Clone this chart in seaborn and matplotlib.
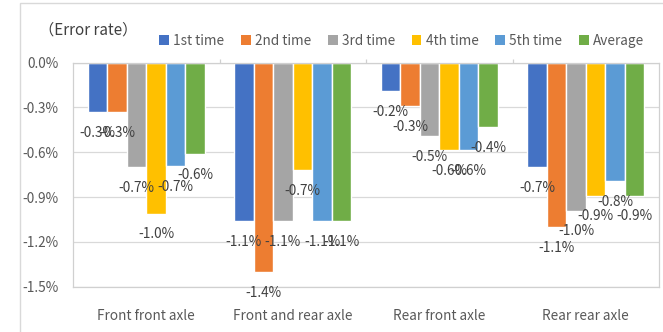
import matplotlib
matplotlib.use("Agg")
import matplotlib.pyplot as plt
import seaborn as sns
import pandas as pd
from matplotlib.patches import Patch, Rectangle
from matplotlib.ticker import FixedLocator, FuncFormatter

categories = ["Front front axle", "Front and rear axle", "Rear front axle", "Rear rear axle"]
series = ["1st time", "2nd time", "3rd time", "4th time", "5th time", "Average"]
first_time = [-0.33, -1.06, -0.19, -0.70]
second_time = [-0.33, -1.40, -0.29, -1.10]
third_time = [-0.70, -1.06, -0.49, -0.99]
fourth_time = [-1.01, -0.72, -0.585, -0.89]
fifth_time = [-0.69, -1.06, -0.585, -0.79]
average = [-0.61, -1.06, -0.43, -0.89]
yticks = [0.0, -0.3, -0.6, -0.9, -1.2, -1.5]
colors = ["#4472C4", "#ED7D31", "#A5A5A5", "#FFC000", "#5B9BD5", "#70AD47"]

values = [first_time, second_time, third_time, fourth_time, fifth_time, average]
rows = []
for s, vals in zip(series, values):
    for c, v in zip(categories, vals):
        rows.append({"category": c, "series": s, "value": v})
df = pd.DataFrame(rows)

sns.set_theme(style="white")
plt.rcParams["font.family"] = ["Noto Sans CJK JP", "DejaVu Sans"]

fig = plt.figure(figsize=(6.63, 3.32), dpi=100)
ax = fig.add_axes([73 / 663, 1 - 286.7 / 332, (659 - 73) / 663, (286.7 - 62.7) / 332])

sns.barplot(data=df, x="category", y="value", hue="series", order=categories,
            hue_order=series, palette=colors, width=0.8, gap=0, saturation=1,
            legend=False, ax=ax, errorbar=None)

ax.set_ylim(-1.5, 0)
ax.set_xlim(-0.5, 3.5)
ax.yaxis.set_major_locator(FixedLocator(yticks))
ax.yaxis.set_major_formatter(FuncFormatter(lambda v, p: f"{v:.1f}%" if abs(v) > 1e-9 else "0.0%"))
ax.grid(axis="y", color="#D9D9D9", linewidth=0.9)
ax.set_axisbelow(True)
for sp in ax.spines.values():
    sp.set_color("#D0D0D0")
    sp.set_linewidth(0.9)
ax.set_xlabel("")
ax.set_ylabel("")
ax.tick_params(axis="y", length=0, pad=10.5, labelsize=9.8, labelcolor="#595959")
ax.tick_params(axis="x", length=0, pad=16, labelsize=9.8, labelcolor="#595959")
ax.set_xticks(range(len(categories)))
ax.set_xticklabels(categories)
ax.xaxis.set_minor_locator(FixedLocator([0.5, 1.5, 2.5]))
ax.tick_params(axis="x", which="minor", top=True, bottom=False, direction="out",
               length=3, color="#D0D0D0", width=0.9)

for cont in ax.containers:
    ax.bar_label(cont, fmt="%.1f%%", padding=10, fontsize=9.8, color="#404040")

handles = [Patch(facecolor=c, edgecolor="none") for c in colors]
fig.legend(handles, series, loc="center left", bbox_to_anchor=(154 / 663, 1 - 41 / 332),
           ncol=6, frameon=False, fontsize=9.8, handlelength=0.7, handleheight=0.7,
           handletextpad=0.3, columnspacing=1.25, labelcolor="#595959", borderaxespad=0)

fig.text(39 / 663, 1 - 30 / 332, "（Error rate）", fontsize=11, color="#404040",
         va="center", ha="left")

fig.patches.append(Rectangle((19.5 / 663, -0.1), 1.2, 1.1 - 2.5 / 332,
                             transform=fig.transFigure, fill=False,
                             edgecolor="#D9D9D9", linewidth=1.0, figure=fig))

fig.savefig("out.png", dpi=100)
